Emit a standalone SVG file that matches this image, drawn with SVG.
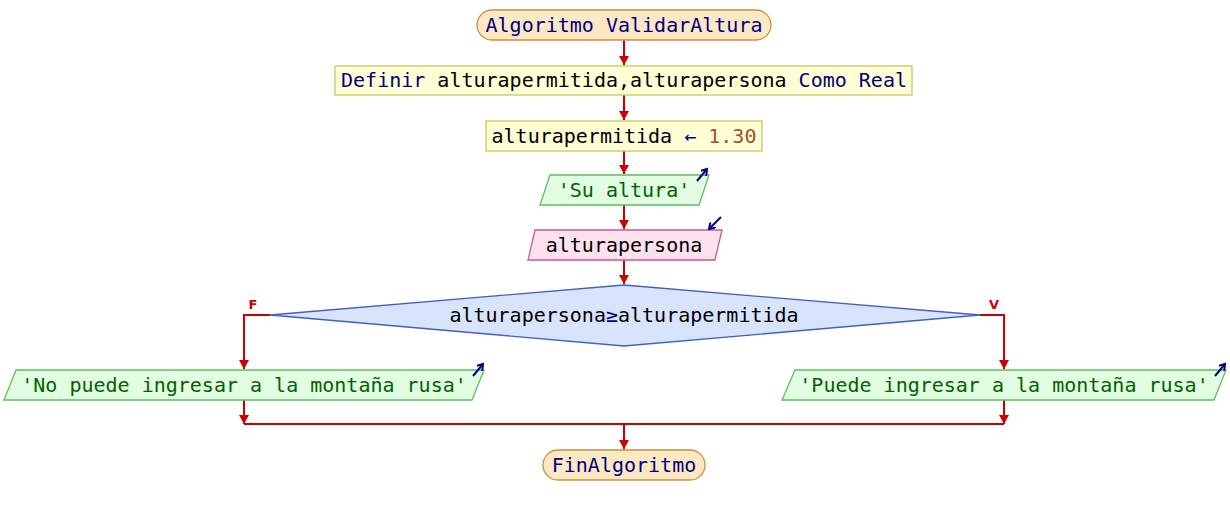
<svg xmlns="http://www.w3.org/2000/svg" width="1230" height="515" viewBox="0 0 1230 515">
<style>
text{font-family:"DejaVu Sans Mono","Liberation Mono",monospace;font-size:20px;text-anchor:middle;fill:#000}
.kw{fill:#000080}
.str{fill:#006400}
.num{fill:#a0522d}
.term{fill:#fde8c4;stroke:#c8913f;stroke-width:1.3}
.proc{fill:#ffffd6;stroke:#c8c864;stroke-width:1.3}
.out{fill:#e2fde2;stroke:#5cbf5c;stroke-width:1.3}
.inp{fill:#fde2ee;stroke:#cc5a8c;stroke-width:1.3}
.dec{fill:#d8e4fc;stroke:#4060c0;stroke-width:1.3}
.icon{stroke:#000080;stroke-width:2;fill:none}
.conn{stroke:#cc0000;stroke-width:2;fill:none}
.lbl{font-family:"DejaVu Sans","Liberation Sans",sans-serif;font-size:13px;font-weight:bold;fill:#cc0000}
</style>
<defs>
<marker id="ah" markerUnits="userSpaceOnUse" markerWidth="12" markerHeight="10" refX="9" refY="5" orient="auto">
<path d="M0,0 L9,5 L0,10 Z" fill="#cc0000"/>
</marker>
<marker id="ih" markerUnits="userSpaceOnUse" markerWidth="8" markerHeight="8" refX="6" refY="4" orient="auto">
<path d="M0,0 L6,4 L0,8" fill="none" stroke="#000080" stroke-width="2"/>
</marker>
</defs>
<g id="connectors">
<path class="conn" d="M624,40 V65" marker-end="url(#ah)"/>
<path class="conn" d="M624,95 V120" marker-end="url(#ah)"/>
<path class="conn" d="M624,151 V174" marker-end="url(#ah)"/>
<path class="conn" d="M624,205 V229" marker-end="url(#ah)"/>
<path class="conn" d="M624,260 V284" marker-end="url(#ah)"/>
<path class="conn" d="M270,315 H244 V369" marker-end="url(#ah)"/>
<path class="conn" d="M980,315 H1004 V369" marker-end="url(#ah)"/>
<path class="conn" d="M244,400 V424" marker-end="url(#ah)"/>
<path class="conn" d="M1004,400 V424" marker-end="url(#ah)"/>
<path class="conn" d="M244,424 H1004"/>
<path class="conn" d="M624,424 V449" marker-end="url(#ah)"/>
<text class="lbl" x="253" y="309">F</text>
<text class="lbl" x="994" y="309">V</text>
</g>
<g id="start">
<rect class="term" x="477" y="10" width="294" height="30" rx="15"/>
<text x="624" y="32" class="kw">Algoritmo ValidarAltura</text>
</g>
<g id="definir">
<rect class="proc" x="335" y="66" width="577" height="29"/>
<text x="624" y="87"><tspan class="kw">Definir</tspan> alturapermitida,alturapersona <tspan class="kw">Como Real</tspan></text>
</g>
<g id="asignar">
<rect class="proc" x="486" y="121" width="276" height="30"/>
<text x="624" y="143">alturapermitida <tspan class="kw">←</tspan><tspan class="num"> 1.30</tspan></text>
</g>
<g id="escribir1">
<path class="out" d="M550,175 H709 L699,205 H540 Z"/>
<text x="624" y="197" class="str">'Su altura'</text>
<path class="icon" d="M697,181 L707,169" marker-end="url(#ih)"/>
</g>
<g id="leer">
<path class="inp" d="M535,230 H722 L715,260 H528 Z"/>
<text x="624" y="252">alturapersona</text>
<path class="icon" d="M721,217 L709,229" marker-end="url(#ih)"/>
</g>
<g id="decision">
<path class="dec" d="M624,285 L980,315 L624,346 L270,315 Z"/>
<text x="624" y="322">alturapersona<tspan class="kw">≥</tspan>alturapermitida</text>
</g>
<g id="escribirNo">
<path class="out" d="M16,370 H484 L472,400 H4 Z"/>
<text x="244" y="392" class="str">'No puede ingresar a la montaña rusa'</text>
<path class="icon" d="M473,376 L483,364" marker-end="url(#ih)"/>
</g>
<g id="escribirSi">
<path class="out" d="M795,370 H1226 L1214,400 H782 Z"/>
<text x="1004" y="392" class="str">'Puede ingresar a la montaña rusa'</text>
<path class="icon" d="M1215,376 L1225,364" marker-end="url(#ih)"/>
</g>
<g id="fin">
<rect class="term" x="543" y="450" width="162" height="30" rx="15"/>
<text x="624" y="472" class="kw">FinAlgoritmo</text>
</g>
</svg>
